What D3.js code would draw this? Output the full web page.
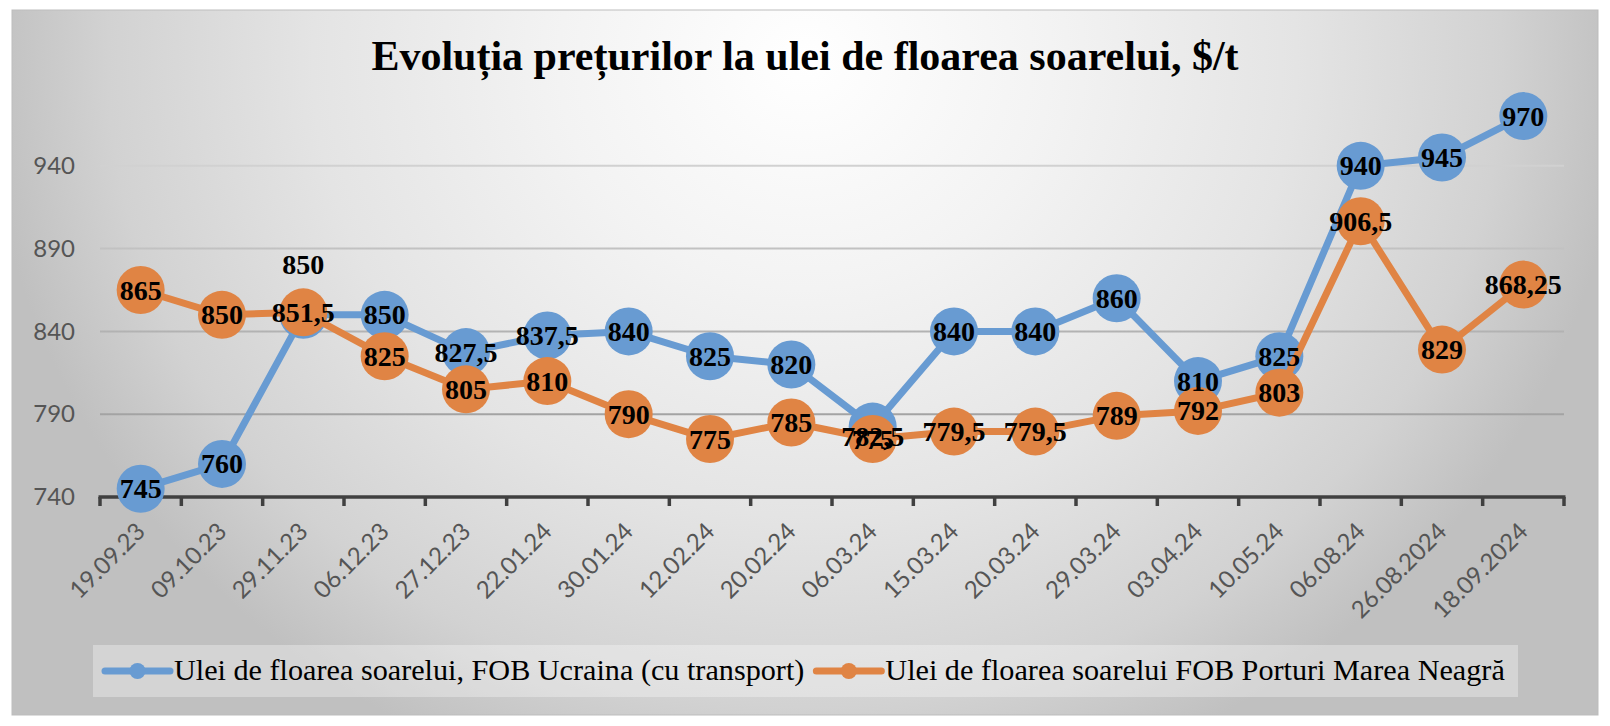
<!DOCTYPE html>
<html>
<head>
<meta charset="utf-8">
<script src="https://cdn.jsdelivr.net/npm/d3@7"></script>
<style>
  html, body { margin: 0; padding: 0; background: #ffffff; }
  svg { display: block; }
</style>
</head>
<body>
<svg id="chart" width="1610" height="726"></svg>
<script>
// ---------- data ----------
const categories = ["19.09.23","09.10.23","29.11.23","06.12.23","27.12.23","22.01.24","30.01.24","12.02.24","20.02.24","06.03.24","15.03.24","20.03.24","29.03.24","03.04.24","10.05.24","06.08.24","26.08.2024","18.09.2024"];
const ucrainaValues = [745, 760, 850, 850, 827.5, 837.5, 840, 825, 820, 782.5, 840, 840, 860, 810, 825, 940, 945, 970];
const porturiValues = [865, 850, 851.5, 825, 805, 810, 790, 775, 785, 775, 779.5, 779.5, 789, 792, 803, 906.5, 829, 868.25];
const yTicks = [740, 790, 840, 890, 940];
const seriesNames = ["Ulei de floarea soarelui, FOB Ucraina (cu transport)", "Ulei de floarea soarelui FOB Porturi Marea Neagră"];
const titleText = "Evoluția prețurilor la ulei de floarea soarelui, $/t";

// ---------- layout / style ----------
const W = 1610, H = 726;
const frame = {x: 12, y: 10, w: 1586, h: 705};
const plot = {left: 100, right: 1564, top: 83, bottom: 497};
const colors = ["#689bd2", "#e08444"];
const markerR = 24;
const lineW = 7;
// manual data-label nudges (like in the original workbook)
const labelNudge = [{2: -50, 9: 10}, {}];

const svg = d3.select("#chart");
const defs = svg.append("defs");

const bg = defs.append("radialGradient")
  .attr("id", "bgGrad")
  .attr("gradientUnits", "userSpaceOnUse")
  .attr("cx", 0).attr("cy", 0).attr("r", 1)
  .attr("gradientTransform", "translate(805,60) scale(820,760)");
[[0, "#ffffff"], [0.3, "#f3f3f3"], [0.6, "#e4e4e4"], [0.85, "#d2d2d2"], [1, "#c0c0c0"]]
  .forEach(([o, c]) => bg.append("stop").attr("offset", o).attr("stop-color", c));

const gg = defs.append("linearGradient")
  .attr("id", "gridGrad")
  .attr("gradientUnits", "userSpaceOnUse")
  .attr("x1", 0).attr("y1", 150).attr("x2", 0).attr("y2", 420);
[[0, "#d4d4d4"], [1, "#a2a2a2"]]
  .forEach(([o, c]) => gg.append("stop").attr("offset", o).attr("stop-color", c));

svg.append("rect")
  .attr("x", frame.x).attr("y", frame.y).attr("width", frame.w).attr("height", frame.h)
  .attr("fill", "url(#bgGrad)").attr("stroke", "#bdbdbd").attr("stroke-width", 1);

// title
svg.append("text")
  .attr("x", frame.x + frame.w / 2).attr("y", 70)
  .attr("text-anchor", "middle")
  .attr("font-family", "'Liberation Serif', 'Times New Roman', serif")
  .attr("font-weight", "bold").attr("font-size", 42)
  .attr("fill", "#000")
  .text(titleText);

// scales
const x = d3.scaleBand().domain(categories).range([plot.left, plot.right]).paddingInner(0).paddingOuter(0);
const cx = d => x(d) + x.bandwidth() / 2;
const y = d3.scaleLinear().domain([740, 990]).range([plot.bottom, plot.top]);

// gridlines
svg.append("g")
  .selectAll("line")
  .data(yTicks.filter(t => t !== 740))
  .join("line")
  .attr("x1", plot.left).attr("x2", plot.right)
  .attr("y1", d => y(d)).attr("y2", d => y(d))
  .attr("stroke", "url(#gridGrad)").attr("stroke-width", 2);

// y axis labels
const yAxis = d3.axisLeft(y).tickValues(yTicks).tickSize(0).tickPadding(25).tickFormat(d3.format("d"));
const yg = svg.append("g").attr("transform", `translate(${plot.left},0)`).call(yAxis);
yg.select(".domain").remove();
yg.selectAll("text")
  .attr("font-family", "Lato, 'Open Sans', sans-serif")
  .attr("font-size", 24).attr("fill", "#555555");

// x axis
const xAxisG = svg.append("g").attr("transform", `translate(0,${plot.bottom})`);
xAxisG.append("line")
  .attr("x1", plot.left - 1.5).attr("x2", plot.right + 1.5)
  .attr("y1", 0).attr("y2", 0)
  .attr("stroke", "#404040").attr("stroke-width", 3.5);
const tickXs = categories.map(c => x(c)).concat([plot.right]);
xAxisG.selectAll("line.tick")
  .data(tickXs)
  .join("line")
  .attr("class", "tick")
  .attr("x1", d => d).attr("x2", d => d)
  .attr("y1", 0).attr("y2", 9)
  .attr("stroke", "#404040").attr("stroke-width", 3.5);
svg.append("g")
  .selectAll("text")
  .data(categories)
  .join("text")
  .attr("transform", d => `translate(${cx(d) + 6},${plot.bottom + 36}) rotate(-45)`)
  .attr("text-anchor", "end")
  .attr("font-family", "Lato, 'Open Sans', sans-serif")
  .attr("font-size", 24).attr("fill", "#555555")
  .text(d => d);

// series
const allSeries = [ucrainaValues, porturiValues];
const line = d3.line().x((d, i) => cx(categories[i])).y(d => y(d));

allSeries.forEach((vals, s) => {
  const g = svg.append("g");
  g.append("path")
    .datum(vals)
    .attr("d", line)
    .attr("fill", "none")
    .attr("stroke", colors[s])
    .attr("stroke-width", lineW)
    .attr("stroke-linejoin", "round")
    .attr("stroke-linecap", "round");
  g.selectAll("circle")
    .data(vals)
    .join("circle")
    .attr("cx", (d, i) => cx(categories[i]))
    .attr("cy", d => y(d))
    .attr("r", markerR)
    .attr("fill", colors[s]);
});

const fmt = v => String(v).replace(".", ",");
allSeries.forEach((vals, s) => {
  svg.append("g")
    .selectAll("text")
    .data(vals)
    .join("text")
    .attr("x", (d, i) => cx(categories[i]))
    .attr("y", (d, i) => y(d) + (labelNudge[s][i] || 0) + 9.5)
    .attr("text-anchor", "middle")
    .attr("font-family", "'Liberation Serif', 'Times New Roman', serif")
    .attr("font-weight", "bold").attr("font-size", 28)
    .attr("fill", "#000")
    .text(d => fmt(d));
});

// legend
const legend = svg.append("g");
legend.append("rect")
  .attr("x", 93).attr("y", 645).attr("width", 1425).attr("height", 52)
  .attr("fill", "#ffffff").attr("fill-opacity", 0.32);
let lx = 105;
seriesNames.forEach((name, s) => {
  const ly = 671;
  legend.append("line")
    .attr("x1", lx).attr("x2", lx + 65).attr("y1", ly).attr("y2", ly)
    .attr("stroke", colors[s]).attr("stroke-width", lineW).attr("stroke-linecap", "round");
  legend.append("circle")
    .attr("cx", lx + 32.5).attr("cy", ly).attr("r", 8).attr("fill", colors[s]);
  const t = legend.append("text")
    .attr("x", lx + 69).attr("y", ly + 9)
    .attr("font-family", "'Liberation Serif', 'Times New Roman', serif")
    .attr("font-size", 30.2).attr("fill", "#000")
    .text(name);
  lx = lx + 69 + t.node().getComputedTextLength() + 12;
});
</script>
</body>
</html>
